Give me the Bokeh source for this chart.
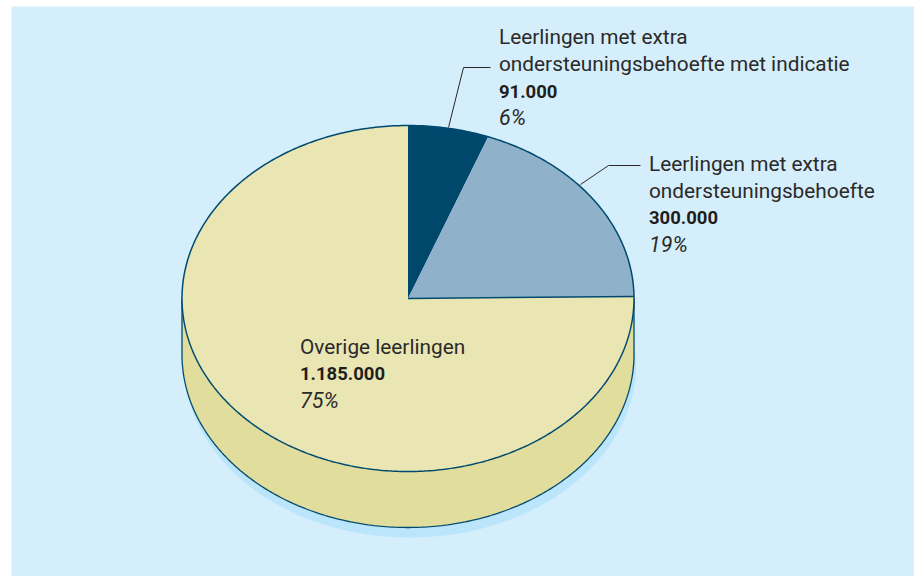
import numpy as np
from bokeh.plotting import figure
from bokeh.models import Range1d
from bokeh.core.properties import value
from bokeh.embed import file_html
from bokeh.resources import INLINE

# data, clockwise from 12 o'clock
categories = ["Leerlingen met extra ondersteuningsbehoefte met indicatie",
              "Leerlingen met extra ondersteuningsbehoefte",
              "Overige leerlingen"]
counts = [91000, 300000, 1185000]
count_labels = ["91.000", "300.000", "1.185.000"]
percent_labels = ["6%", "19%", "75%"]
slice_colors = ["#00476c", "#8fb2ca", "#e9e6b4"]

PANEL = "#d5eefb"
SIDE = "#e1dd9c"
SHADOW = "#bae5fb"
EDGE = "#004a70"
INK = "#2b2a29"
FONT = "Roboto"
FS = "20.8px"
FS_BOLD = "18.5px"
FS_ITALIC = "21.5px"

CX, CY, RX, RY, DEPTH = 407.5, 298.0, 226.0, 173.0, 56.0

p = figure(width=914, height=576, x_range=Range1d(0, 914), y_range=Range1d(576, 0),
           output_backend="svg", toolbar_location=None, min_border=0,
           x_axis_type=None, y_axis_type=None)
p.grid.visible = False
p.outline_line_color = None
p.background_fill_color = "white"
p.border_fill_color = "white"

p.quad(left=[11], right=[914], top=[6], bottom=[576], fill_color=PANEL, line_color=None)


def arc(a0, a1, cy=CY, cx=CX, rx=RX, ry=RY, n=240):
    t = np.linspace(a0, a1, n)
    return cx + rx * np.sin(t), cy - ry * np.cos(t)


# shadow
sx, sy = arc(0, 2 * np.pi, cy=CY + DEPTH + 10, cx=CX + 2)
p.patch(sx, sy, fill_color=SHADOW, line_color=None)

# side wall
bx, by = arc(np.pi / 2, 3 * np.pi / 2, cy=CY + DEPTH)
wx = np.r_[CX + RX, bx, CX - RX]
wy = np.r_[CY, by, CY]
p.patch(wx, wy, fill_color=SIDE, line_color=None)
p.line(wx, wy, line_color=EDGE, line_width=1.3)

# top slices
shares = np.array(counts, dtype=float) / sum(counts)
edges = np.r_[0, np.cumsum(shares)] * 2 * np.pi
for i, col in enumerate(slice_colors):
    ax, ay = arc(edges[i], edges[i + 1])
    p.patch(np.r_[CX, ax], np.r_[CY, ay], fill_color=col, line_color=None)

tx, ty = arc(0, 2 * np.pi, n=480)
p.line(tx, ty, line_color=EDGE, line_width=1.5)
ex, ey = arc(edges[2], edges[2])
p.line([CX, ex[0]], [CY, ey[0]], line_color=EDGE, line_width=1.5)

# leaders
p.line([448, 463, 490], [127, 67, 67], line_color=INK, line_width=1)
p.line([580, 608, 640], [184, 165, 165], line_color=INK, line_width=1)


def block(x, y, lines, i):
    step = 27
    for k, t in enumerate(lines):
        p.text([x], [y + k * step], text=[t], text_font=value(FONT), text_font_size=FS,
               text_color=INK, text_baseline="alphabetic")
    n = len(lines)
    p.text([x], [y + n * step], text=[count_labels[i]], text_font=value(FONT), text_font_size=FS_BOLD,
           text_font_style="bold", text_color="#1f1e1d", text_baseline="alphabetic")
    p.text([x], [y + (n + 1) * step - 0.5], text=[percent_labels[i]], text_font=value(FONT),
           text_font_size=FS_ITALIC, text_font_style="italic", text_color=INK,
           text_baseline="alphabetic")


block(498.5, 36.5, ["Leerlingen met extra", "ondersteuningsbehoefte met indicatie"], 0)
block(648.5, 163, ["Leerlingen met extra", "ondersteuningsbehoefte"], 1)
block(299.5, 346, ["Overige leerlingen"], 2)

open("out.html", "w").write(file_html(p, INLINE))
